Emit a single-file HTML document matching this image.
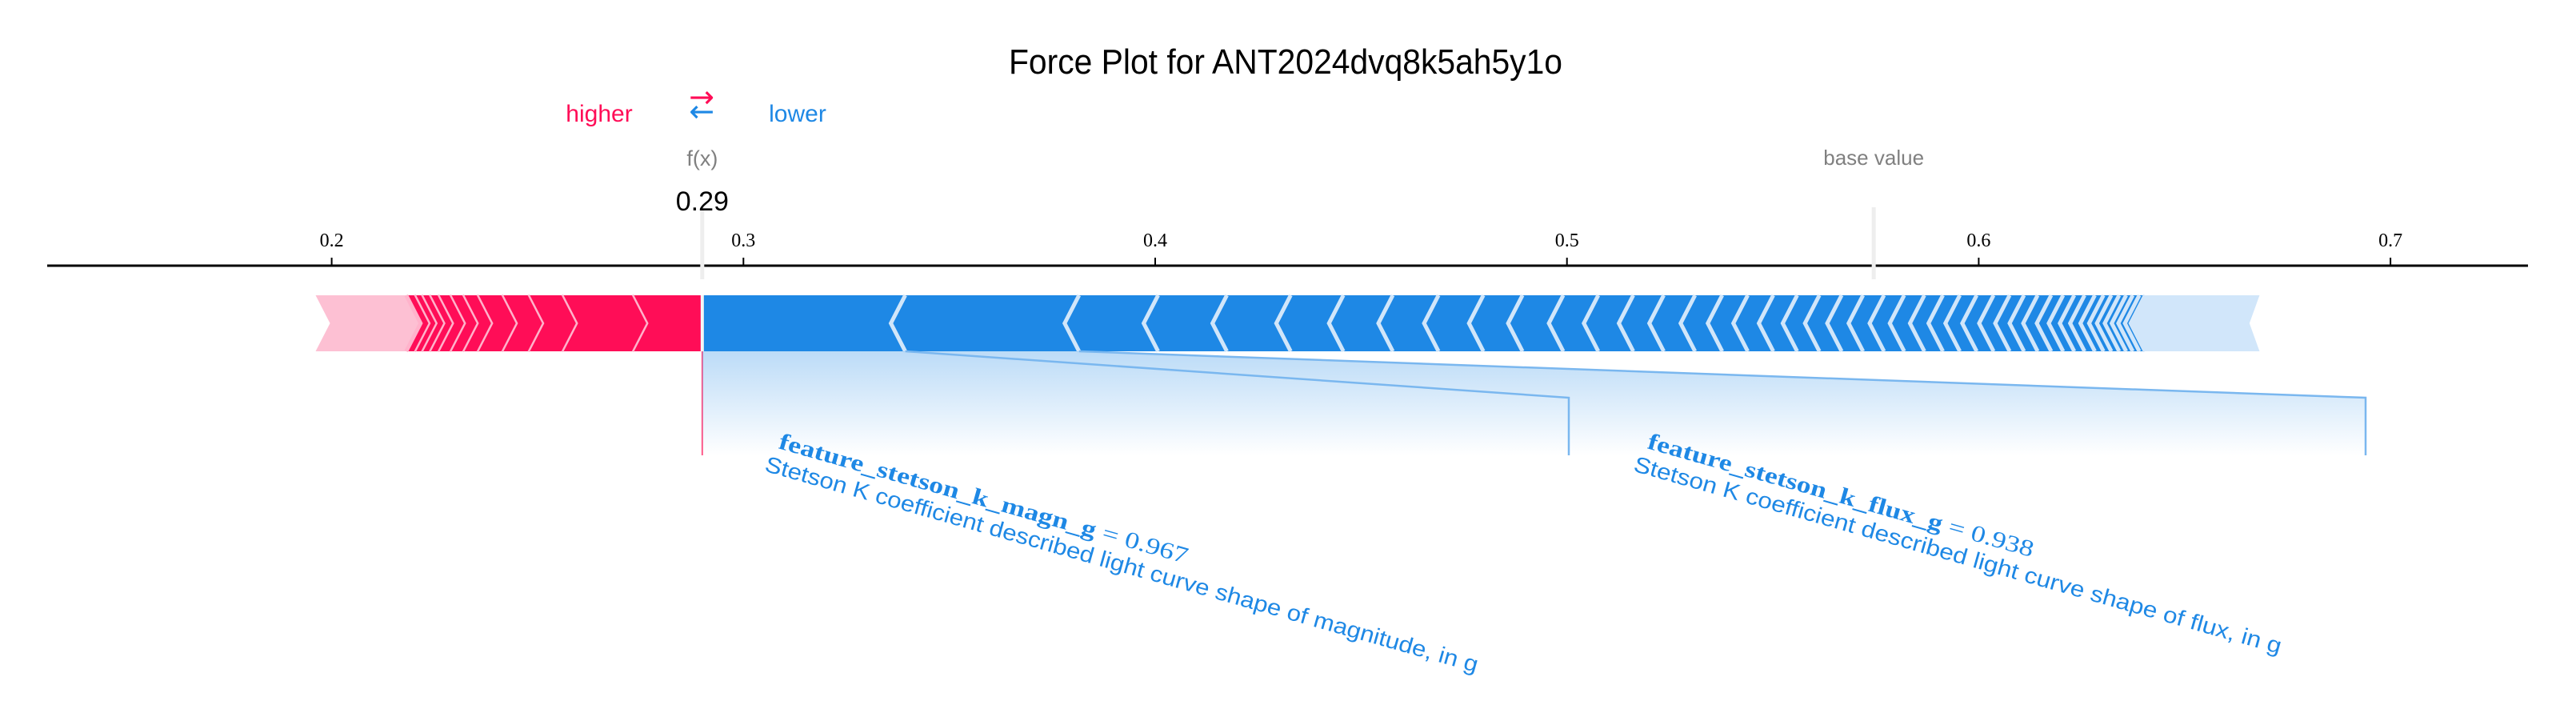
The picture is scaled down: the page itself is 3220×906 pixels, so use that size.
<!DOCTYPE html>
<html><head><meta charset="utf-8"><style>
html,body{margin:0;padding:0;background:#fff;}
svg{display:block;}
</style></head><body>
<svg id="chart" width="3220" height="906" viewBox="0 0 3220 906" xmlns="http://www.w3.org/2000/svg">
<defs>
<linearGradient id="fadeBlue" x1="0" y1="0" x2="0" y2="1">
<stop offset="0" stop-color="#1e88e5" stop-opacity="0.3"/>
<stop offset="1" stop-color="#1e88e5" stop-opacity="0"/>
</linearGradient>
</defs>
<text x="1607" y="92" text-anchor="middle" font-family="Liberation Sans, sans-serif" font-size="44" textLength="692" lengthAdjust="spacingAndGlyphs" fill="#000">Force Plot for ANT2024dvq8k5ah5y1o</text>
<text x="749" y="152" text-anchor="middle" font-family="Liberation Sans, sans-serif" font-size="30" fill="#ff0d57">higher</text>
<text x="877" y="134" text-anchor="middle" font-family="DejaVu Sans, sans-serif" font-size="38" fill="#ff0d57">→</text>
<text x="877" y="152" text-anchor="middle" font-family="DejaVu Sans, sans-serif" font-size="38" fill="#1e88e5">←</text>
<text x="997" y="152" text-anchor="middle" font-family="Liberation Sans, sans-serif" font-size="30" fill="#1e88e5">lower</text>
<g id="axis"></g>
<g id="marks"></g>
<g id="labels"></g>
</svg>
<script>
const ticks = [0.2, 0.3, 0.4, 0.5, 0.6, 0.7];
const tickLabels = ["0.2", "0.3", "0.4", "0.5", "0.6", "0.7"];
const fx = 0.29;
const baseValue = 0.5745;
// positive (red) contributions, ordered from f(x) leftwards
const redValues = [0.0171,0.0171,0.0082,0.0064,0.0060,0.0035,0.0031,0.0029,0.0021,0.0019,0.0017,0.0019];
const redTail = 0.0220;
// negative (blue) contributions, ordered from f(x) rightwards
const blueValues = [0.0493,0.0422,0.0192,0.0167,0.0155,0.0128,0.0120,0.0111,0.0109,0.0095,0.0099,0.0085,0.0085,0.0074,0.0076,0.0066,0.0062,0.0062,0.0058,0.0054,0.0054,0.0052,0.0051,0.0049,0.0049,0.0045,0.0041,0.0041,0.0041,0.0039,0.0035,0.0033,0.0033,0.0029,0.0027,0.0025,0.0025,0.0021,0.0019,0.0019,0.0017,0.0016,0.0016,0.0014];
const blueTail = 0.0278;
const featureNames = ["feature_stetson_k_magn_g","feature_stetson_k_flux_g"];
const featureValues = ["0.967","0.938"];
const featureDescs = ["Stetson K coefficient described light curve shape of magnitude, in g","Stetson K coefficient described light curve shape of flux, in g"];

const NS="http://www.w3.org/2000/svg";
const X = v => 414.6 + (v-0.2)*5147;
const axisY=332, barTop=369, barBot=439, barMid=404, tip=18;
function mk(tag, attrs, parent){const e=document.createElementNS(NS,tag);for(const k in attrs)e.setAttribute(k,attrs[k]);parent.appendChild(e);return e;}
const axis=document.getElementById('axis'), marks=document.getElementById('marks'), labels=document.getElementById('labels');

let el=mk('line',{x1:59,x2:3160,y1:axisY,y2:axisY,stroke:'#000','stroke-width':3},axis);


ticks.forEach((t,i)=>{
  let l=mk('line',{x1:X(t),x2:X(t),y1:axisY-10,y2:axisY,stroke:'#000','stroke-width':2},axis);
  
  
  let tx=mk('text',{x:X(t),y:308,'text-anchor':'middle','font-family':'Liberation Serif, serif','font-size':24,fill:'#000'},axis);
  tx.textContent=tickLabels[i];
  
  
});
el=mk('line',{x1:X(baseValue),x2:X(baseValue),y1:259,y2:349,stroke:'#eeeeee','stroke-width':5},axis);


el=mk('text',{x:X(baseValue),y:206,'text-anchor':'middle','font-family':'Liberation Sans, sans-serif','font-size':26,fill:'#808080'},axis);
el.textContent='base value';


el=mk('line',{x1:X(fx),x2:X(fx),y1:259,y2:349,stroke:'#eeeeee','stroke-width':5},axis);


el=mk('text',{x:X(fx),y:207,'text-anchor':'middle','font-family':'Liberation Sans, sans-serif','font-size':27,fill:'#808080'},axis);
el.textContent='f(x)';


el=mk('text',{x:X(fx),y:263,'text-anchor':'middle','font-family':'Liberation Sans, sans-serif','font-size':34,fill:'#000'},axis);
el.textContent=fx.toFixed(2);



let right=fx;
const redSum = redValues.reduce((a,b)=>a+b,0);
const redEnd = fx - redSum - redTail;
{
  const x0=X(redEnd), x1=X(fx - redSum);
  let p=mk('polygon',{points:`${x0},${barTop} ${x1},${barTop} ${x1+tip},${barMid} ${x1},${barBot} ${x0},${barBot} ${x0+tip},${barMid}`,fill:'#fdc0d3'},marks);
  
  
}
redValues.forEach((v,i)=>{
  const x1=X(right), x0=X(right-v);
  const rt = i===0 ? `${x1},${barTop} ${x1},${barBot}` : `${x1},${barTop} ${x1+tip},${barMid} ${x1},${barBot}`;
  let p=mk('polygon',{points:`${x0},${barTop} ${rt} ${x0},${barBot} ${x0+tip},${barMid}`,fill:'#ff0d57'},marks);
  
  
  let s=mk('polyline',{points:`${x0},${barTop} ${x0+tip},${barMid} ${x0},${barBot}`,fill:'none',stroke:'#ffb3cb','stroke-width':5},marks);
  
  
  right-=v;
});
let left=fx;
const blueBounds=[];
blueValues.forEach((v,i)=>{
  const x0=X(left), x1=X(left+v);
  const lt = i===0 ? `${x0},${barBot} ${x0},${barTop}` : `${x0},${barBot} ${x0-tip},${barMid} ${x0},${barTop}`;
  let p=mk('polygon',{points:`${lt} ${x1},${barTop} ${x1-tip},${barMid} ${x1},${barBot}`,fill:'#1e88e5'},marks);
  
  
  blueBounds.push([left,left+v]);
  left+=v;
});
{
  const x0=X(left), x1=X(left+blueTail);
  let p=mk('polygon',{points:`${x0},${barTop} ${x1},${barTop} ${x1-tip*0.7},${barMid} ${x1},${barBot} ${x0},${barBot} ${x0-tip},${barMid}`,fill:'#d1e6fa'},marks);
  
  
}
let acc=fx;
blueValues.forEach((v,i)=>{
  acc+=v;
  const x=X(acc);
  let s=mk('polyline',{points:`${x},${barTop} ${x-tip},${barMid} ${x},${barBot}`,fill:'none',stroke:'#d1e6fa','stroke-width':5},marks);
  
  
});
el=mk('line',{x1:X(fx),x2:X(fx),y1:barTop,y2:barBot,stroke:'#f5f5f5','stroke-width':4},marks);



const slotX=[X(fx),1961,2957], topY=497, botY=569;
el=mk('line',{x1:X(fx),x2:X(fx),y1:barBot,y2:botY,stroke:'#ff5a8a','stroke-width':2},labels);


for(let i=1;i>=0;i--){
  const b=blueBounds[i];
  const pts=`${X(b[0])},${barBot} ${X(b[1])},${barBot} ${slotX[i+1]},${topY} ${slotX[i+1]},${botY} ${slotX[i]},${botY} ${slotX[i]},${i===0?barBot:topY}`;
  let p=mk('polygon',{points:pts,fill:'url(#fadeBlue)'},labels);
  
  
  let l=mk('polyline',{points:`${X(b[1])},${barBot} ${slotX[i+1]},${topY} ${slotX[i+1]},${botY}`,fill:'none',stroke:'#7ab7ef','stroke-width':2.5},labels);
  
  
}
const labelPos=[[972,560],[2058,560]];
const nameLen=[530,500], descLen=[925,840];
featureNames.forEach((n,i)=>{
  const [lx,ly]=labelPos[i];
  const g=mk('g',{transform:`translate(${lx},${ly}) rotate(15.8)`},labels);
  
  
  let t=mk('text',{x:0,y:0,'font-family':'Liberation Serif, serif','font-size':29,fill:'#1e88e5',textLength:nameLen[i],lengthAdjust:'spacingAndGlyphs'},g);
  const ts1=mk('tspan',{'font-weight':'bold'},t); ts1.textContent=n;
  const ts2=mk('tspan',{},t); ts2.textContent=' = '+featureValues[i];
  
  
  let d=mk('text',{x:-9,y:32,'font-family':'Liberation Sans, sans-serif','font-size':28,fill:'#1e88e5',textLength:descLen[i],lengthAdjust:'spacingAndGlyphs'},g);
  d.textContent=featureDescs[i];
  
  
});
</script>
</body></html>
